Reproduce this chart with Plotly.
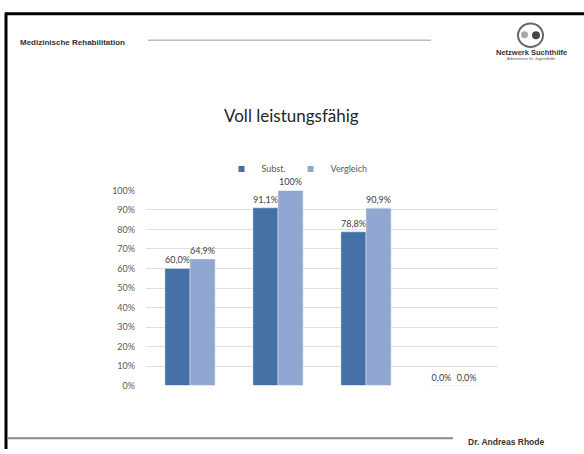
import plotly.graph_objects as go

categories = ["Gruppe 1", "Gruppe 2", "Gruppe 3", "Gruppe 4"]
subst = [60.0, 91.1, 78.8, 0.0]
vergleich = [64.9, 100.0, 90.9, 0.0]
subst_labels = ["60,0%", "91,1%", "78,8%", "0,0%"]
vergleich_labels = ["64,9%", "100%", "90,9%", "0,0%"]
series_names = ["Subst.", "Vergleich"]
series_colors = ["#4470a6", "#91a7d1"]
tick_vals = [0, 10, 20, 30, 40, 50, 60, 70, 80, 90, 100]
tick_text = ["0%", "10%", "20%", "30%", "40%", "50%", "60%", "70%", "80%", "90%", "100%"]

W, H = 584, 454
def px(x):
    return x / W
def py(y):
    return 1 - y / H

fig = go.Figure()
for name, vals, labels, color in zip(series_names, [subst, vergleich],
                                     [subst_labels, vergleich_labels], series_colors):
    fig.add_trace(go.Bar(name=name, x=categories, y=vals, text=labels,
                         textposition="outside", marker_color=color, showlegend=False,
                         textfont=dict(size=9, color="#404040"), cliponaxis=False))
# legend entries with small square markers
for name, color in zip(series_names, series_colors):
    fig.add_trace(go.Scatter(name=name, x=[None], y=[None], mode="markers",
                             marker=dict(symbol="square", size=6, color=color),
                             showlegend=True))

def ann(text, x, y, size, color="#333333", family="Liberation Sans, Arial", xanchor="center"):
    return dict(text=text, x=px(x), y=py(y), xref="paper", yref="paper", xanchor=xanchor,
                yanchor="middle", showarrow=False, font=dict(size=size, color=color, family=family))

fig.update_layout(
    width=W, height=H,
    margin=dict(l=0, r=0, t=0, b=0),
    paper_bgcolor="white", plot_bgcolor="white",
    barmode="group", bargap=0.43, bargroupgap=0,
    font=dict(family="Lato, Open Sans, sans-serif", color="#595959"),
    showlegend=True,
    legend=dict(orientation="h", x=px(297), xanchor="center", y=py(167), yanchor="middle",
                font=dict(size=9, color="#595959"), itemwidth=30, tracegroupgap=0,
                bgcolor="rgba(0,0,0,0)", traceorder="normal"),
    xaxis=dict(domain=[px(146), px(498)], showticklabels=False, showgrid=False,
               zeroline=False, showline=False, ticks=""),
    yaxis=dict(domain=[py(389), py(189)], range=[0, 100], tickvals=tick_vals,
               ticktext=tick_text, showgrid=True, gridcolor="#dedede", gridwidth=1,
               zeroline=False, showline=False, ticks="", ticklabelstandoff=10,
               tickfont=dict(size=9, color="#595959")),
    annotations=[
        ann("Voll leistungsfähig", 291, 112, 17, "#262626", "Lato, sans-serif"),
        ann("<b>Medizinische Rehabilitation</b>", 18, 37, 8, xanchor="left"),
        ann("<b>Netzwerk Suchthilfe</b>", 531, 48, 7.5),
        ann("Arbeitskreis für Jugendhilfe", 531, 54, 4, "#555555"),
        ann("<b>Dr. Andreas Rhode</b>", 466, 447, 8.5, xanchor="left"),
    ],
    shapes=[
        dict(type="line", xref="paper", yref="paper", x0=px(6), x1=px(6), y0=py(7), y1=0,
             line=dict(color="black", width=3)),
        dict(type="line", xref="paper", yref="paper", x0=px(5), x1=1, y0=py(8), y1=py(8),
             line=dict(color="black", width=3)),
        dict(type="line", xref="paper", yref="paper", x0=px(148), x1=px(431), y0=py(35),
             y1=py(35), line=dict(color="#9a9a9a", width=1)),
        dict(type="line", xref="paper", yref="paper", x0=px(7), x1=px(453), y0=py(443),
             y1=py(443), line=dict(color="#8a8a8a", width=2)),
        dict(type="circle", xref="paper", yref="paper", x0=px(518), x1=px(543), y0=py(42),
             y1=py(18), line=dict(color="#666666", width=2)),
        dict(type="circle", xref="paper", yref="paper", x0=px(521), x1=px(528), y0=py(33),
             y1=py(26), fillcolor="#aaaaaa", line=dict(width=0)),
        dict(type="circle", xref="paper", yref="paper", x0=px(532), x1=px(540), y0=py(34),
             y1=py(26), fillcolor="#444444", line=dict(width=0)),
    ],
)

post = """
var de=document.documentElement, b=document.body;
de.style.margin='0'; de.style.padding='0'; de.style.overflow='hidden';
b.style.margin='0'; b.style.padding='0'; b.style.overflow='hidden';
"""
fig.write_html("out.html", config={"displayModeBar": False}, post_script=post)
